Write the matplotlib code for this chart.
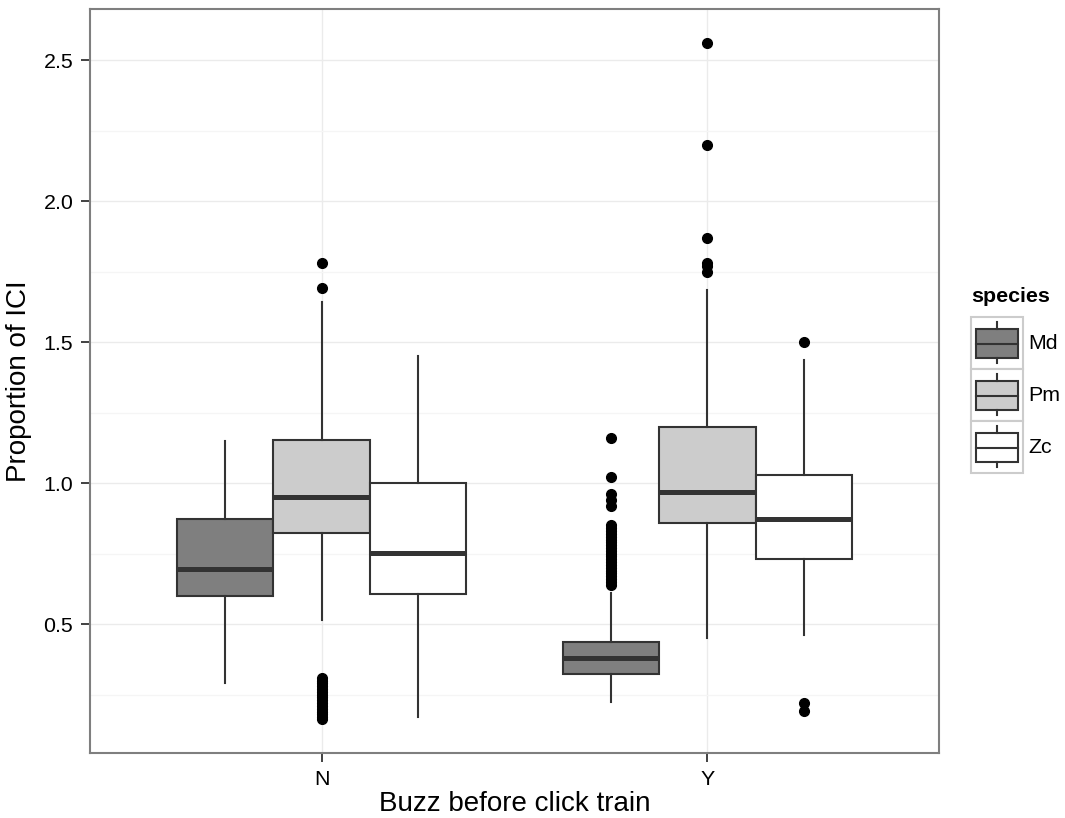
import matplotlib
matplotlib.use("Agg")
import matplotlib.pyplot as plt
from matplotlib.legend_handler import HandlerBase
from matplotlib.patches import Rectangle
from matplotlib.lines import Line2D

plt.rcParams['font.family'] = ['Liberation Sans', 'DejaVu Sans']

# ---- data -------------------------------------------------------------
buzz_levels = ["N", "Y"]
species = ["Md", "Pm", "Zc"]
species_fill = {"Md": "#7F7F7F", "Pm": "#CCCCCC", "Zc": "#FFFFFF"}

# five-number summaries per buzz level, one entry per species (Md, Pm, Zc)
whislo_N = [0.290, 0.514, 0.170]
q1_N = [0.600, 0.823, 0.605]
med_N = [0.695, 0.950, 0.752]
q3_N = [0.872, 1.152, 1.000]
whishi_N = [1.150, 1.642, 1.450]

whislo_Y = [0.225, 0.449, 0.461]
q1_Y = [0.324, 0.859, 0.731]
med_Y = [0.380, 0.970, 0.872]
q3_Y = [0.437, 1.198, 1.027]
whishi_Y = [0.612, 1.686, 1.437]

outliers_N_Md = []
outliers_N_Pm = [1.78, 1.69, 0.31, 0.30, 0.29, 0.28, 0.27, 0.26, 0.25, 0.24,
                 0.23, 0.22, 0.21, 0.20, 0.19, 0.18, 0.17, 0.165]
outliers_N_Zc = []
outliers_Y_Md = [1.16, 1.02, 0.96, 0.94, 0.92, 0.85, 0.84, 0.83, 0.82, 0.81,
                 0.80, 0.79, 0.78, 0.77, 0.76, 0.75, 0.74, 0.73, 0.72, 0.71,
                 0.70, 0.69, 0.68, 0.67, 0.66, 0.65, 0.64]
outliers_Y_Pm = [2.56, 2.20, 1.87, 1.78, 1.77, 1.75]
outliers_Y_Zc = [1.50, 0.221, 0.192]

y_ticks = [0.5, 1.0, 1.5, 2.0, 2.5]
y_minor = [0.25, 0.75, 1.25, 1.75, 2.25]

# ---- build stats ------------------------------------------------------
summaries = {
    "N": (whislo_N, q1_N, med_N, q3_N, whishi_N,
          [outliers_N_Md, outliers_N_Pm, outliers_N_Zc]),
    "Y": (whislo_Y, q1_Y, med_Y, q3_Y, whishi_Y,
          [outliers_Y_Md, outliers_Y_Pm, outliers_Y_Zc]),
}

W, H, DPI = 1065, 818, 100
fig = plt.figure(figsize=(W / DPI, H / DPI), dpi=DPI)
ax = fig.add_axes([90 / W, 1 - 753 / H, 849 / W, 744 / H])

edge = "#333333"
dodge = 0.25
for gi, lvl in enumerate(buzz_levels):
    lo, a, m, b, hi, outs = summaries[lvl]
    for si, sp in enumerate(species):
        st = [dict(whislo=lo[si], q1=a[si], med=m[si], q3=b[si],
                   whishi=hi[si], fliers=outs[si])]
        pos = gi + 1 + (si - 1) * dodge
        ax.bxp(st, positions=[pos], widths=dodge, patch_artist=True,
               showcaps=False, manage_ticks=False,
               boxprops=dict(facecolor=species_fill[sp], edgecolor=edge,
                             linewidth=1.5),
               whiskerprops=dict(color=edge, linewidth=1.5),
               medianprops=dict(color=edge, linewidth=3.6,
                                solid_capstyle="butt"),
               flierprops=dict(marker="o", markerfacecolor="black",
                               markeredgecolor="black", markersize=7,
                               linestyle="none"))

ax.set_xlim(0.4, 2.6)
ax.set_ylim(0.043, 2.681)
ax.set_xticks([1, 2])
ax.set_xticklabels(buzz_levels)
ax.set_yticks(y_ticks)
ax.set_yticklabels([f"{v:.1f}" for v in y_ticks])
ax.set_yticks(y_minor, minor=True)

ax.set_axisbelow(True)
ax.grid(True, which="major", color="#EBEBEB", linewidth=1.0)
ax.grid(True, which="minor", axis="y", color="#F5F5F5", linewidth=1.0)
ax.tick_params(axis="both", which="major", length=6.5, width=1.3,
               color=edge, labelsize=15.4, labelcolor="black", pad=5.5)
ax.tick_params(axis="y", which="minor", length=0)
for s in ax.spines.values():
    s.set_color("#7F7F7F")
    s.set_linewidth(1.5)

ax.set_xlabel("Buzz before click train", fontsize=20, labelpad=1.5)
ax.set_ylabel("Proportion of ICI", fontsize=20, labelpad=8)


# ---- legend with miniature boxplot keys ------------------------------
class BoxKey(HandlerBase):
    def __init__(self, fill):
        super().__init__()
        self.fill = fill

    def create_artists(self, legend, orig_handle, xdescent, ydescent,
                       width, height, fontsize, trans):
        x0, y0 = -xdescent, -ydescent
        frame = Rectangle((x0, y0), width, height, facecolor="white",
                          edgecolor="#CCCCCC", linewidth=1.5, transform=trans)
        bx = Rectangle((x0 + 0.10 * width, y0 + 0.21 * height),
                       0.80 * width, 0.55 * height, facecolor=self.fill,
                       edgecolor=edge, linewidth=1.5, transform=trans)
        xc = x0 + width / 2
        w_top = Line2D([xc, xc], [y0 + 0.76 * height, y0 + 0.905 * height],
                       color=edge, linewidth=1.5, transform=trans)
        w_bot = Line2D([xc, xc], [y0 + 0.11 * height, y0 + 0.21 * height],
                       color=edge, linewidth=1.5, transform=trans)
        med = Line2D([x0 + 0.10 * width, x0 + 0.90 * width],
                     [y0 + 0.485 * height, y0 + 0.485 * height],
                     color=edge, linewidth=1.5, transform=trans)
        return [frame, bx, w_top, w_bot, med]


handles = [Rectangle((0, 0), 1, 1) for _ in species]
handler_map = {h: BoxKey(species_fill[sp]) for h, sp in zip(handles, species)}
fs = 15.4
key_pt = 52 * 72 / DPI
# legend handle box height = fs*hh - 0.35*fs*(hh-0.7)
hh = (key_pt / fs - 0.245) / 0.65
leg = fig.legend(handles, species, handler_map=handler_map,
                 loc="upper left", bbox_to_anchor=(971 / W, 1 - 317 / H),
                 frameon=False, fontsize=fs,
                 handlelength=key_pt / fs, handleheight=hh,
                 labelspacing=0.0, handletextpad=5 * 72 / DPI / fs,
                 borderpad=0.0, borderaxespad=0.0)
fig.text(971 / W, 1 - 296 / H, "species", fontsize=fs, fontweight="bold",
         ha="left", va="center")

fig.savefig("out.png", dpi=DPI)
